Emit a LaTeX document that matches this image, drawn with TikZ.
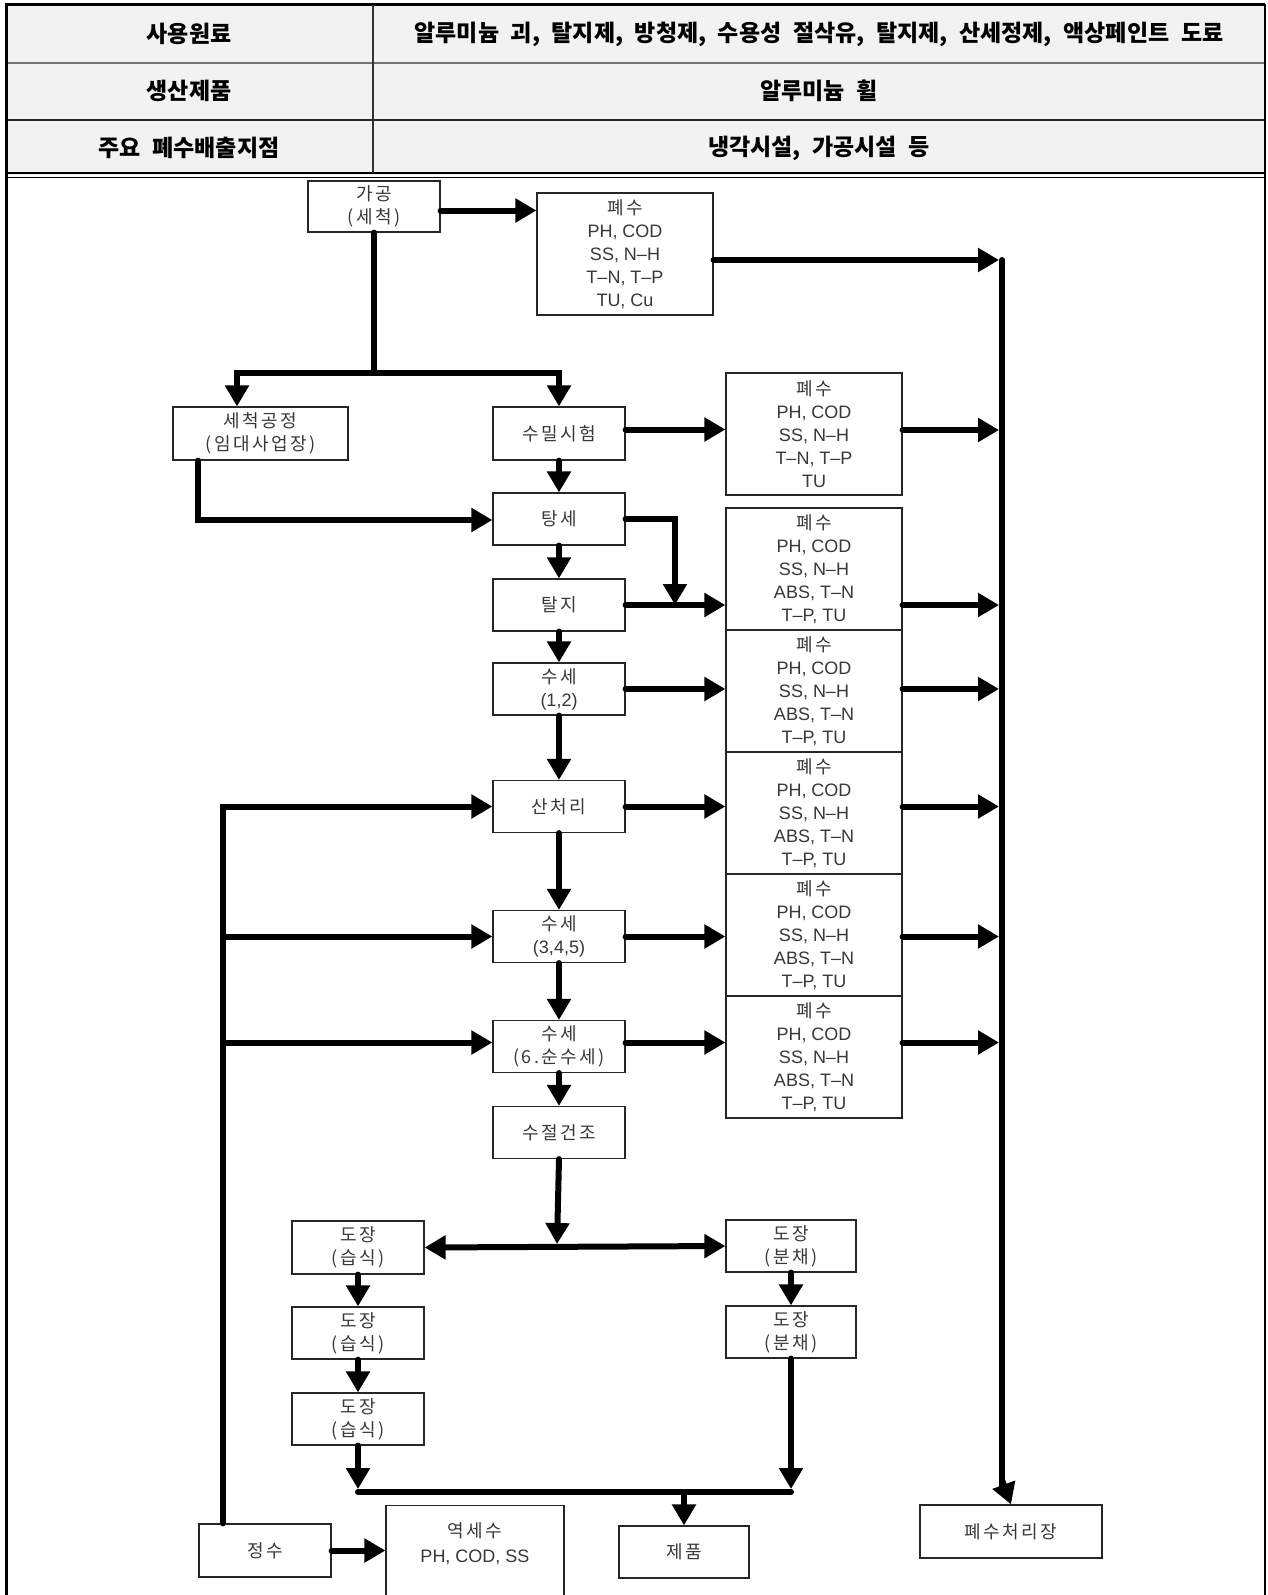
\documentclass[tikz,border=0pt]{standalone}
\usepackage{fontspec}
\setmainfont{Liberation Sans}
\newfontfamily\kr[LetterSpace=14]{Noto Sans CJK KR}
\newfontfamily\krh[WordSpace=2.2]{Noto Sans CJK KR}
\usetikzlibrary{arrows.meta}
\definecolor{hdrfill}{HTML}{F2F2F2}
\tikzset{
  box/.style={draw=black!85, line width=1.2pt, fill=white, text=black!78, align=center,
    font=\fontsize{18}{23}\selectfont, inner sep=0pt, minimum width=132pt, minimum height=52pt},
  wbox/.style={box, minimum width=176pt, minimum height=122pt},
  flow/.style={line width=6pt, line cap=round, -{Triangle[length=21pt,width=23pt]}},
  flowboth/.style={line width=6pt, {Triangle[length=21pt,width=23pt]}-{Triangle[length=21pt,width=23pt]}},
  bar/.style={line width=6pt, line cap=round},
  hdr/.style={font=\krh\bfseries\fontsize{23}{27}\selectfont, text=black, inner sep=0pt},
}
\begin{document}
\begin{tikzpicture}[x=1pt,y=-1pt]
\useasboundingbox (0,0) rectangle (1268,1595);
\clip (0,0) rectangle (1268,1595);
\fill[white] (0,0) rectangle (1268,1595);
% header table
\fill[hdrfill] (5,5) rectangle (1265,175);
\draw[line width=3pt] (5,5) -- (1265,5);
\draw[black!55, line width=2pt] (5,63) -- (1265,63);
\draw[black!85, line width=1.5pt] (5,120) -- (1265,120);
\draw[line width=1.5pt] (5,173) -- (1265,173);
\draw[line width=1.5pt] (5,177.5) -- (1265,177.5);
\draw[black!80, line width=1.5pt] (373,5) -- (373,173);
\draw[line width=3pt] (6.5,4) -- (6.5,1600);
\draw[line width=2.5pt] (1265,4) -- (1265,1600);
\node[hdr] (h1a) at (189,34) {사용원료};
\node[hdr] (h1b) at (819,34) {알루미늄 괴, 탈지제, 방청제, 수용성 절삭유, 탈지제, 산세정제, 액상페인트 도료};
\node[hdr] (h2a) at (189,91) {생산제품};
\node[hdr] (h2b) at (819,91) {알루미늄 휠};
\node[hdr] (h3a) at (189,148) {주요 폐수배출지점};
\node[hdr] (h3b) at (819,148) {냉각시설, 가공시설 등};
% process nodes
\node[box, minimum height=51pt] (gagong) at (374,206.5) {{\kr 가공}\\{\kr (세척)}};
\node[wbox] (pw0) at (625,254) {{\kr 폐수}\\PH, COD\\SS, N–H\\T–N, T–P\\TU, Cu};
\node[box, minimum width=175pt, minimum height=53pt] (secheok) at (260.5,433.5) {{\kr 세척공정}\\{\kr (임대사업장)}};
\node[box, minimum height=53pt] (sumil) at (559,433.5) {\kr 수밀시험};
\node[box] (tangse) at (559,519) {\kr 탕세};
\node[box] (talji) at (559,605) {\kr 탈지};
\node[box] (susu12) at (559,689) {{\kr 수세}\\(1,2)};
\node[box] (sancheori) at (559,806.5) {\kr 산처리};
\node[box] (susu345) at (559,936.5) {{\kr 수세}\\(3,4,5)};
\node[box] (susu6) at (559,1046.5) {{\kr 수세}\\{\kr (6.순수세)}};
\node[box] (sujeol) at (559,1132.5) {\kr 수절건조};
\node[wbox] (pwA) at (814,434) {{\kr 폐수}\\PH, COD\\SS, N–H\\T–N, T–P\\TU};
\node[wbox] (pwB) at (814,569) {{\kr 폐수}\\PH, COD\\SS, N–H\\ABS, T–N\\T–P, TU};
\node[wbox] (pwC) at (814,691) {{\kr 폐수}\\PH, COD\\SS, N–H\\ABS, T–N\\T–P, TU};
\node[wbox] (pwD) at (814,813) {{\kr 폐수}\\PH, COD\\SS, N–H\\ABS, T–N\\T–P, TU};
\node[wbox] (pwE) at (814,935) {{\kr 폐수}\\PH, COD\\SS, N–H\\ABS, T–N\\T–P, TU};
\node[wbox] (pwF) at (814,1057) {{\kr 폐수}\\PH, COD\\SS, N–H\\ABS, T–N\\T–P, TU};
\node[box, minimum height=53pt] (dojang1) at (358,1247.5) {{\kr 도장}\\{\kr (습식)}};
\node[box] (dojang2) at (358,1333) {{\kr 도장}\\{\kr (습식)}};
\node[box] (dojang3) at (358,1419) {{\kr 도장}\\{\kr (습식)}};
\node[box, minimum width=130pt] (bunchae1) at (791,1246) {{\kr 도장}\\{\kr (분채)}};
\node[box, minimum width=130pt] (bunchae2) at (791,1332) {{\kr 도장}\\{\kr (분채)}};
\node[box, minimum height=53pt] (jeongsu) at (265,1550.5) {\kr 정수};
\node[box, minimum width=178pt, minimum height=130pt, anchor=north] (yeok) at (475,1505) {};
\node[text=black!78, align=center, font=\fontsize{18}{25}\selectfont, inner sep=0pt] (yeoktxt) at (475,1543.5) {{\kr 역세수}\\PH, COD, SS};
\node[box, minimum width=130pt] (jepum) at (684,1552) {\kr 제품};
\node[box, minimum width=182pt, minimum height=53pt] (treat) at (1011,1531.5) {\kr 폐수처리장};
% helper coordinates
\coordinate (mx) at (999,0);
\coordinate (mtop) at (1002,260);
\coordinate (split1) at (374,373);
\coordinate (tjoin) at (675,602);
\coordinate (lx) at (223,0);
\coordinate (bar1) at (557,1247);
\coordinate (bar2) at (684,1492);
% connectors
\draw[flow] ([yshift=-4pt]gagong.east) -- ([yshift=-4pt]gagong.east -| pw0.west);
\draw[flow] ([yshift=-6pt]pw0.east) -- ([yshift=-6pt]pw0.east -| mx);
\draw[bar] (mtop) -- (1002,1490);
\draw[flow] (1002,1480) -- (treat.north);
\draw[bar] (gagong.south) -- (split1);
\draw[flow] (split1) -| ([xshift=-23.5pt]secheok.north);
\draw[flow] (split1) -| (sumil.north);
\draw[flow] ([xshift=-62.5pt]secheok.south) |- ([yshift=-1pt]tangse.west);
\draw[flow] ([yshift=4pt]sumil.east) -- ([yshift=4pt]sumil.east -| pwA.west);
\draw[flow] ([yshift=4pt]pwA.east) -- ([yshift=4pt]pwA.east -| mx);
\draw[bar] (tangse.east) -| (675,590);
\draw[flow] (675,580) -- ([yshift=-3pt]tjoin);
\draw[flow] (talji.east) -- (talji.east -| pwB.west);
\draw[flow] (talji.east -| pwB.east) -- (talji.east -| mx);
\draw[flow] (susu12.east) -- (susu12.east -| pwC.west);
\draw[flow] (susu12.east -| pwC.east) -- (susu12.east -| mx);
\draw[flow] (sancheori.east) -- (sancheori.east -| pwD.west);
\draw[flow] (sancheori.east -| pwD.east) -- (sancheori.east -| mx);
\draw[flow] (susu345.east) -- (susu345.east -| pwE.west);
\draw[flow] (susu345.east -| pwE.east) -- (susu345.east -| mx);
\draw[flow] ([yshift=4pt]susu6.east) -- ([yshift=4pt]susu6.east -| pwF.west);
\draw[flow] ([yshift=4pt]susu6.east -| pwF.east) -- ([yshift=4pt]susu6.east -| mx);
\draw[flow] (sumil.south) -- (tangse.north);
\draw[flow] (tangse.south) -- (talji.north);
\draw[flow] (talji.south) -- (susu12.north);
\draw[flow] (susu12.south) -- (sancheori.north);
\draw[flow] (sancheori.south) -- (susu345.north);
\draw[flow] (susu345.south) -- (susu6.north);
\draw[flow] (susu6.south) -- (sujeol.north);
\draw[flow] (sujeol.south) -- ([yshift=3pt]bar1);
\draw[flowboth] (dojang1.east) -- (bunchae1.west);
\draw[flow] (dojang1.south) -- (dojang2.north);
\draw[flow] (dojang2.south) -- (dojang3.north);
\draw[flow] (bunchae1.south) -- (bunchae2.north);
\draw[flow] (dojang3.south) -- ([yshift=3pt]dojang3.south |- bar2);
\draw[flow] (bunchae2.south) -- ([yshift=3pt]bunchae2.south |- bar2);
\draw[bar] (dojang3.south |- bar2) -- (bunchae2.south |- bar2);
\draw[flow] (bar2) -- (jepum.north);
\draw[flow] (jeongsu.north -| lx) |- (sancheori.west);
\draw[flow] (susu345.west -| lx) -- (susu345.west);
\draw[flow] ([yshift=4pt]susu6.west -| lx) -- ([yshift=4pt]susu6.west);
\draw[flow] (jeongsu.east) -- (jeongsu.east -| yeok.west);
\end{tikzpicture}
\end{document}
